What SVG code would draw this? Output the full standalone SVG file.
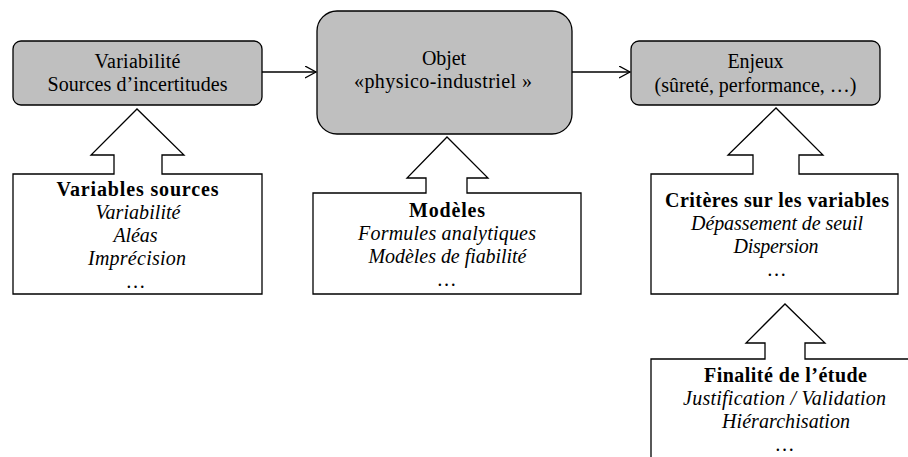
<svg xmlns="http://www.w3.org/2000/svg" width="908" height="457" viewBox="0 0 908 457">
<defs>
<style>
.top{fill:#bfbfbf;stroke:#000;stroke-width:1.3}
.box{fill:#fff;stroke:#000;stroke-width:1.3;stroke-linejoin:miter}
.conn{fill:none;stroke:#000;stroke-width:1.3}
text{font-family:"Liberation Serif","DejaVu Serif",serif;font-size:20px;fill:#000;text-anchor:middle}
.b{font-weight:bold}
.i{font-style:italic}
</style>
<marker id="arr" markerUnits="userSpaceOnUse" markerWidth="14" markerHeight="14" refX="11" refY="6" orient="auto">
<path d="M0,0 L11,6 L0,12" fill="none" stroke="#000" stroke-width="1.3"/>
</marker>
</defs>
<rect width="908" height="457" fill="#fff"/>
<g id="connectors">
<line class="conn" x1="262" y1="72" x2="316" y2="72" marker-end="url(#arr)"/>
<line class="conn" x1="572" y1="72" x2="630" y2="72" marker-end="url(#arr)"/>
</g>
<g id="variabilite">
<rect class="top" x="13" y="41" width="249" height="64" rx="8"/>
<text x="137.5" y="68" textLength="86">Variabilité</text>
<text x="137.5" y="91" textLength="180">Sources d’incertitudes</text>
</g>
<g id="objet">
<rect class="top" x="317" y="11" width="255" height="123" rx="20"/>
<text x="444" y="65" textLength="44">Objet</text>
<text x="443" y="88" textLength="178">«physico-industriel »</text>
</g>
<g id="enjeux">
<rect class="top" x="631" y="41" width="249" height="64" rx="8"/>
<text x="755.5" y="68" textLength="56">Enjeux</text>
<text x="755.5" y="91.5" textLength="202">(sûreté, performance, …)</text>
</g>
<g id="variables-sources">
<path class="box" d="M13,174 H114 V155 H91 L137,109 L184,155 H162 V174 H262 V294 H13 Z"/>
<text class="b" x="137.5" y="196" textLength="162">Variables sources</text>
<text class="i" x="138" y="219" textLength="85">Variabilité</text>
<text class="i" x="135.5" y="242" textLength="44">Aléas</text>
<text class="i" x="137" y="265" textLength="98">Imprécision</text>
<text class="i" x="136" y="288" textLength="14">…</text>
</g>
<g id="modeles">
<path class="box" d="M313,193 H426 V178 H407 L447,137 L488,178 H467 V193 H581 V294 H313 Z"/>
<text class="b" x="447" y="216.5" textLength="76">Modèles</text>
<text class="i" x="447" y="239.5" textLength="178">Formules analytiques</text>
<text class="i" x="447.5" y="262.5" textLength="158">Modèles de fiabilité</text>
<text class="i" x="447" y="285.5" textLength="14">…</text>
</g>
<g id="criteres">
<path class="box" d="M651,174 H753 V155 H728 L776,108 L823,155 H799 V174 H898 V294 H651 Z"/>
<text class="b" x="777" y="207" textLength="224">Critères sur les variables</text>
<text class="i" x="777" y="230" textLength="172">Dépassement de seuil</text>
<text class="i" x="776" y="253" textLength="85">Dispersion</text>
<text class="i" x="777" y="276" textLength="14">…</text>
</g>
<g id="finalite">
<path class="box" d="M651,359 H765 V343 H746 L785,304 L825,343 H805 V359 H919 V480 H651 Z"/>
<text class="b" x="785.5" y="382" textLength="163">Finalité de l’étude</text>
<text class="i" x="784.5" y="405" textLength="203">Justification / Validation</text>
<text class="i" x="786" y="428" textLength="128">Hiérarchisation</text>
<text class="i" x="785" y="451" textLength="14">…</text>
</g>
</svg>
